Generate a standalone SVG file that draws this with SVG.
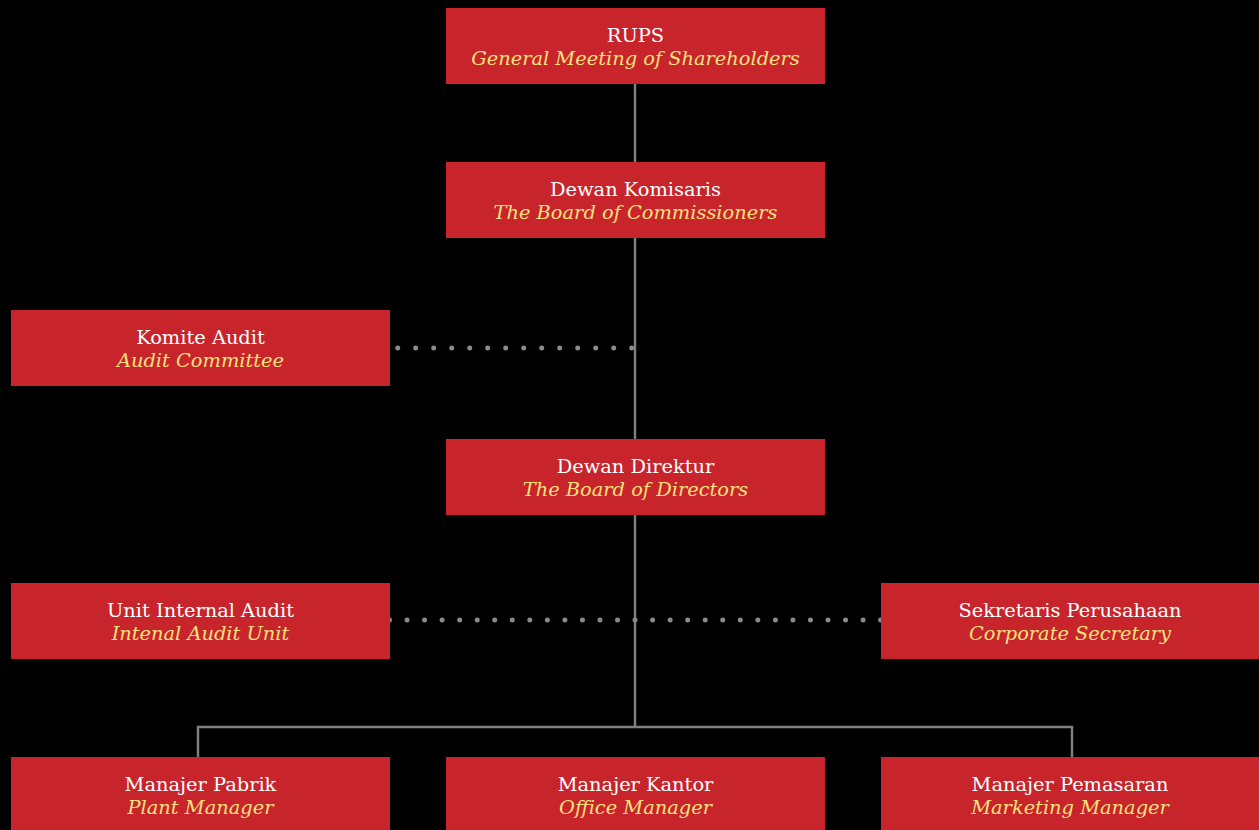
<svg xmlns="http://www.w3.org/2000/svg" width="1259" height="830" viewBox="0 0 1259 830">
<defs>
<style>
.box{fill:#C8242C}
.t{font-family:"DejaVu Serif","Liberation Serif",serif;font-size:19.4px;text-anchor:middle}
.w{fill:#FFFFFF}
.y{fill:#F7E27E;font-style:italic}
.ln{stroke:#808080;stroke-width:2.4;fill:none}
.dot{stroke:#8A8A8C;stroke-width:5;stroke-linecap:round;fill:none}
</style>
</defs>
<rect width="1259" height="830" fill="#000"/>
<g id="connectors">
<line class="ln" x1="635" y1="84" x2="635" y2="727"/>
<polyline class="ln" points="198,757 198,727 1072,727 1072,757"/>
<line class="dot" x1="397.7" y1="348" x2="636" y2="348" stroke-dasharray="0 18"/>
<line class="dot" x1="389.5" y1="620" x2="881" y2="620" stroke-dasharray="0 17.54"/>
</g>
<g id="rups"><rect class="box" x="446" y="8" width="379" height="76"/><text class="t w" x="635.5" y="42">RUPS</text><text class="t y" x="635.5" y="65">General Meeting of Shareholders</text></g>
<g id="komisaris"><rect class="box" x="446" y="162" width="379" height="76"/><text class="t w" x="635.5" y="196">Dewan Komisaris</text><text class="t y" x="635.5" y="219">The Board of Commissioners</text></g>
<g id="komite"><rect class="box" x="11" y="310" width="379" height="76"/><text class="t w" x="200.5" y="344">Komite Audit</text><text class="t y" x="200.5" y="367">Audit Committee</text></g>
<g id="direktur"><rect class="box" x="446" y="439" width="379" height="76"/><text class="t w" x="635.5" y="473">Dewan Direktur</text><text class="t y" x="635.5" y="496">The Board of Directors</text></g>
<g id="internal-audit"><rect class="box" x="11" y="583" width="379" height="76"/><text class="t w" x="200.5" y="617">Unit Internal Audit</text><text class="t y" x="200.5" y="640">Intenal Audit Unit</text></g>
<g id="sekretaris"><rect class="box" x="881" y="583" width="378" height="76"/><text class="t w" x="1070" y="617">Sekretaris Perusahaan</text><text class="t y" x="1070" y="640">Corporate Secretary</text></g>
<g id="pabrik"><rect class="box" x="11" y="757" width="379" height="73"/><text class="t w" x="200.5" y="791">Manajer Pabrik</text><text class="t y" x="200.5" y="814">Plant Manager</text></g>
<g id="kantor"><rect class="box" x="446" y="757" width="379" height="73"/><text class="t w" x="635.5" y="791">Manajer Kantor</text><text class="t y" x="635.5" y="814">Office Manager</text></g>
<g id="pemasaran"><rect class="box" x="881" y="757" width="378" height="73"/><text class="t w" x="1070" y="791">Manajer Pemasaran</text><text class="t y" x="1070" y="814">Marketing Manager</text></g>
</svg>
